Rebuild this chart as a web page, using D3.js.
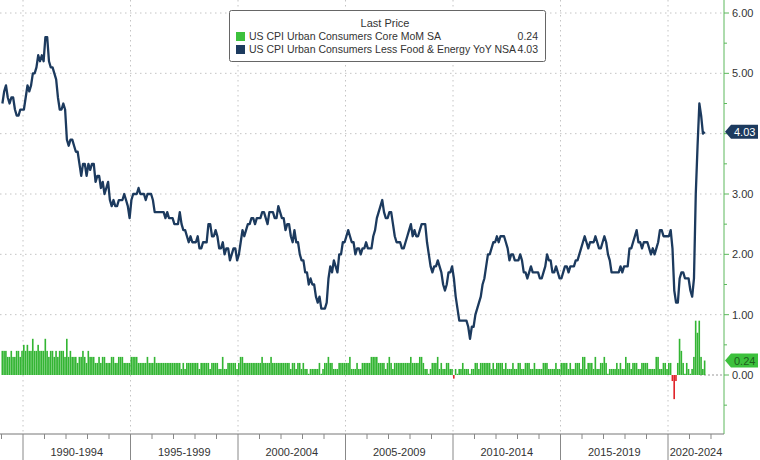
<!DOCTYPE html>
<html><head><meta charset="utf-8">
<script src="https://cdn.jsdelivr.net/npm/d3@7"></script>
<style>body{margin:0;background:#fff}svg{display:block;font-family:"Liberation Sans",Arial,sans-serif}</style>
</head><body><svg id="c" width="760" height="460"></svg>
<script>
const startYear = 1989;
const yoy = [
4.5,4.7,4.8,4.6,4.5,4.6,4.6,4.4,4.3,4.3,4.4,4.4,
4.4,4.6,4.8,4.7,4.8,5.0,5.0,5.1,5.3,5.2,5.3,5.2,
5.6,5.6,5.2,5.1,5.1,5.0,4.9,4.6,4.4,4.4,4.5,4.4,
3.9,3.8,3.9,3.9,3.8,3.7,3.7,3.5,3.3,3.5,3.5,3.3,
3.5,3.4,3.5,3.5,3.2,3.3,3.3,3.1,3.2,3.0,3.1,3.2,
2.9,2.8,2.9,2.8,2.8,2.9,2.9,2.9,3.0,2.9,2.8,2.6,
2.9,3.0,3.0,3.0,3.1,3.0,3.0,3.0,2.9,3.0,3.0,3.0,
2.9,2.7,2.7,2.7,2.7,2.7,2.7,2.6,2.7,2.6,2.6,2.6,
2.5,2.5,2.5,2.7,2.5,2.4,2.4,2.3,2.2,2.3,2.2,2.2,
2.2,2.3,2.1,2.1,2.2,2.2,2.2,2.5,2.5,2.3,2.3,2.4,
2.3,2.1,2.1,2.2,2.0,2.1,2.1,1.9,2.0,2.1,2.1,1.9,
2.0,2.2,2.4,2.3,2.4,2.5,2.5,2.6,2.6,2.5,2.6,2.6,
2.6,2.7,2.7,2.6,2.5,2.7,2.7,2.7,2.6,2.6,2.8,2.7,
2.6,2.6,2.4,2.5,2.5,2.3,2.2,2.4,2.2,2.2,2.0,1.9,
1.9,1.7,1.7,1.5,1.6,1.5,1.5,1.3,1.2,1.3,1.1,1.1,
1.1,1.2,1.6,1.8,1.7,1.9,1.8,1.7,2.0,2.0,2.2,2.2,
2.3,2.4,2.3,2.2,2.2,2.0,2.1,2.1,2.0,2.1,2.1,2.2,
2.1,2.1,2.1,2.3,2.4,2.6,2.7,2.8,2.9,2.7,2.6,2.6,
2.7,2.7,2.5,2.3,2.2,2.2,2.2,2.1,2.1,2.2,2.3,2.4,
2.5,2.3,2.4,2.3,2.3,2.4,2.5,2.5,2.5,2.2,2.0,1.8,
1.7,1.8,1.8,1.9,1.8,1.7,1.5,1.4,1.5,1.7,1.7,1.8,
1.6,1.3,1.1,0.9,0.9,0.9,0.9,0.9,0.8,0.6,0.8,0.8,
1.0,1.1,1.2,1.3,1.5,1.6,1.8,2.0,2.0,2.1,2.2,2.2,
2.3,2.2,2.3,2.3,2.3,2.2,2.1,1.9,2.0,2.0,1.9,1.9,
1.9,2.0,1.9,1.7,1.7,1.6,1.7,1.8,1.7,1.7,1.7,1.7,
1.6,1.6,1.7,1.8,2.0,1.9,1.9,1.7,1.7,1.8,1.7,1.6,
1.6,1.7,1.8,1.8,1.7,1.8,1.8,1.8,1.9,1.9,2.0,2.1,
2.2,2.3,2.2,2.1,2.2,2.2,2.2,2.3,2.2,2.1,2.1,2.2,
2.3,2.2,2.0,1.9,1.7,1.7,1.7,1.7,1.7,1.8,1.7,1.8,
1.8,1.8,2.1,2.1,2.2,2.3,2.4,2.2,2.2,2.1,2.2,2.2,
2.2,2.1,2.0,2.1,2.0,2.1,2.2,2.4,2.4,2.3,2.3,2.3,
2.3,2.4,2.1,1.4,1.2,1.2,1.6,1.7,1.7,1.6,1.6,1.6,
1.4,1.3,1.6,3.0,3.8,4.5,4.3,4.0,4.03];
const mom = [
.4,.4,.4,.3,.3,.4,.3,.3,.4,.4,.3,.4,
.5,.4,.5,.4,.4,.6,.4,.4,.5,.4,.4,.4,
.6,.4,.3,.4,.4,.3,.4,.3,.4,.4,.4,.3,
.6,.3,.4,.3,.3,.3,.2,.3,.3,.4,.3,.2,
.4,.3,.3,.3,.2,.2,.3,.2,.3,.3,.2,.2,
.2,.3,.3,.2,.2,.3,.3,.3,.2,.2,.2,.2,
.3,.3,.3,.3,.2,.2,.2,.2,.2,.3,.2,.2,
.2,.3,.2,.2,.2,.2,.2,.2,.2,.2,.2,.2,
.2,.2,.2,.2,.1,.2,.1,.2,.2,.2,.2,.2,
.2,.2,.1,.2,.2,.2,.2,.2,.1,.2,.2,.2,
.2,.1,.1,.3,.1,.1,.2,.2,.2,.2,.2,.1,
.2,.3,.3,.2,.2,.2,.2,.2,.2,.2,.2,.2,
.2,.3,.2,.2,.2,.2,.3,.2,.2,.2,.2,.2,
.2,.2,.2,.2,.2,.1,.2,.2,.1,.2,.2,.1,
.2,.1,.1,.02,.1,.1,.1,.1,.1,.2,.02,.1,
.2,.2,.3,.2,.2,.1,.1,.1,.2,.2,.2,.2,
.2,.2,.3,.1,.1,.1,.2,.1,.1,.2,.2,.2,
.2,.2,.3,.3,.3,.3,.2,.2,.2,.2,.1,.2,
.3,.2,.1,.2,.2,.2,.2,.2,.2,.2,.2,.2,
.3,.2,.2,.2,.2,.3,.3,.2,.1,.1,.02,.1,
.2,.2,.2,.3,.1,.2,.1,.1,.2,.2,.1,.1,
-.06,.1,.02,.1,.1,.2,.1,.1,.1,.02,.1,.1,
.2,.2,.1,.2,.2,.2,.2,.2,.2,.1,.2,.1,
.2,.2,.2,.2,.1,.2,.1,.1,.1,.2,.1,.1,
.2,.2,.1,.1,.2,.2,.2,.1,.1,.2,.1,.1,
.1,.1,.2,.2,.2,.1,.1,.1,.1,.2,.1,.1,
.2,.2,.2,.2,.1,.2,.1,.1,.2,.2,.2,.1,
.3,.3,.1,.2,.2,.2,.1,.3,.1,.1,.2,.2,
.3,.2,.02,.1,.1,.1,.1,.2,.1,.2,.1,.1,
.3,.2,.2,.1,.2,.2,.2,.1,.1,.2,.2,.2,
.2,.1,.1,.1,.1,.3,.3,.1,.1,.2,.2,.1,
.2,.2,-.1,-.4,-.1,.2,.6,.4,.2,.02,.2,.1,
.02,.1,.3,.9,.7,.9,.3,.1,.24];
const periods = ["1990-1994","1995-1999","2000-2004","2005-2009","2010-2014","2015-2019","2020-2024"];
const yTicks = [0,1,2,3,4,5,6];
const legendNames = ["US CPI Urban Consumers Core MoM SA","US CPI Urban Consumers Less Food & Energy YoY NSA"];

const svg = d3.select("#c");
const W=724, B=434;
const x = d3.scaleLinear().domain([1988.93, 2020]).range([0, 668]);
const y = d3.scaleLinear().domain([0, 6]).range([375, 13]);
const t = i => startYear + i/12;

const g = svg.append("g");
g.selectAll(".h").data([1,2,3,4,5,6]).join("line").attr("x1",0).attr("x2",W)
 .attr("y1",d=>y(d)).attr("y2",d=>y(d)).attr("stroke","#c4c4c4").attr("stroke-dasharray","1.5,3.5");
g.append("line").attr("x1",700).attr("x2",W).attr("y1",y(0)).attr("y2",y(0)).attr("stroke","#999").attr("stroke-dasharray","2,2");
const bounds = d3.range(1990, 2021, 5);
g.selectAll(".v").data(bounds).join("line").attr("y1",0).attr("y2",B)
 .attr("x1",d=>x(d)).attr("x2",d=>x(d)).attr("stroke","#c4c4c4").attr("stroke-dasharray","1.5,3.5");

const bw = x(1990+1/12)-x(1990);
svg.append("g").selectAll("rect").data(mom).join("rect")
 .attr("x",(d,i)=>x(t(i))).attr("width",bw*0.9)
 .attr("y",d=>y(Math.max(0,d))).attr("height",d=>Math.abs(y(d)-y(0)))
 .attr("fill",d=>d<0?"#e0242a":"#33b533");

svg.append("path").datum(yoy).attr("fill","none").attr("stroke","#1c3a5e").attr("stroke-width",2.3)
 .attr("stroke-linejoin","round")
 .attr("d",d3.line().x((d,i)=>x(t(i))+bw/2).y(d=>y(d)));

const ax = svg.append("g");
ax.append("line").attr("x1",W).attr("x2",W).attr("y1",0).attr("y2",B).attr("stroke","#5cb85c");
ax.selectAll(".mt").data(d3.range(-0.5,6.01,0.5)).join("line").attr("x1",W).attr("x2",d=>W+(d%1===0?5:3))
 .attr("y1",d=>y(d)).attr("y2",d=>y(d)).attr("stroke","#5cb85c");
ax.selectAll("text").data(yTicks.filter(d=>d!==4)).join("text").attr("x",W+8).attr("y",d=>y(d)+4)
 .attr("font-size",11).attr("fill","#333").text(d=>d.toFixed(2));
function tag(v, fill, col, txt){
  const yy=y(v);
  ax.append("path").attr("d",`M${W+1},${yy} L${W+7},${yy-7} H758 V${yy+7} H${W+7} Z`).attr("fill",fill);
  ax.append("text").attr("x",W+10).attr("y",yy+4).attr("font-size",11).attr("fill",col).text(txt);
}
tag(yoy[yoy.length-1],"#1c3a5e","#fff",yoy[yoy.length-1].toFixed(2));
tag(mom[mom.length-1],"#3cc13c","#1d5e1d",mom[mom.length-1].toFixed(2));

const bx = svg.append("g");
bx.append("line").attr("x1",0).attr("x2",W).attr("y1",B).attr("y2",B).attr("stroke","#777");
bx.selectAll(".yt").data(d3.range(1989,2023)).join("line").attr("x1",d=>x(d)).attr("x2",d=>x(d))
 .attr("y1",B).attr("y2",d=>d%5===0?460:B+5).attr("stroke","#888");
bx.selectAll("text").data(periods).join("text")
 .attr("x",(d,i)=>i===periods.length-1?(x(2020)+W)/2:x(1992.5+5*i)).attr("y",456)
 .attr("text-anchor","middle").attr("font-size",11).attr("fill","#333").text(d=>d);

const lg = svg.append("g");
lg.append("rect").attr("x",229.5).attr("y",10.5).attr("width",316).attr("height",51).attr("rx",2)
 .attr("fill","#fff").attr("stroke","#666");
lg.append("text").attr("x",385).attr("y",27).attr("text-anchor","middle").attr("font-size",11).attr("fill","#333").text("Last Price");
[[legendNames[0],"#3cc13c",mom[mom.length-1]],[legendNames[1],"#1c3a5e",yoy[yoy.length-1]]].forEach((r,i)=>{
  const yy=40+i*13;
  lg.append("rect").attr("x",236).attr("y",yy-8).attr("width",9).attr("height",9).attr("fill",r[1]);
  lg.append("text").attr("x",249).attr("y",yy).attr("font-size",10.5).attr("fill","#333").text(r[0]);
  lg.append("text").attr("x",538).attr("y",yy).attr("text-anchor","end").attr("font-size",10.5).attr("fill","#333").text(r[2].toFixed(2));
});
</script></body></html>
